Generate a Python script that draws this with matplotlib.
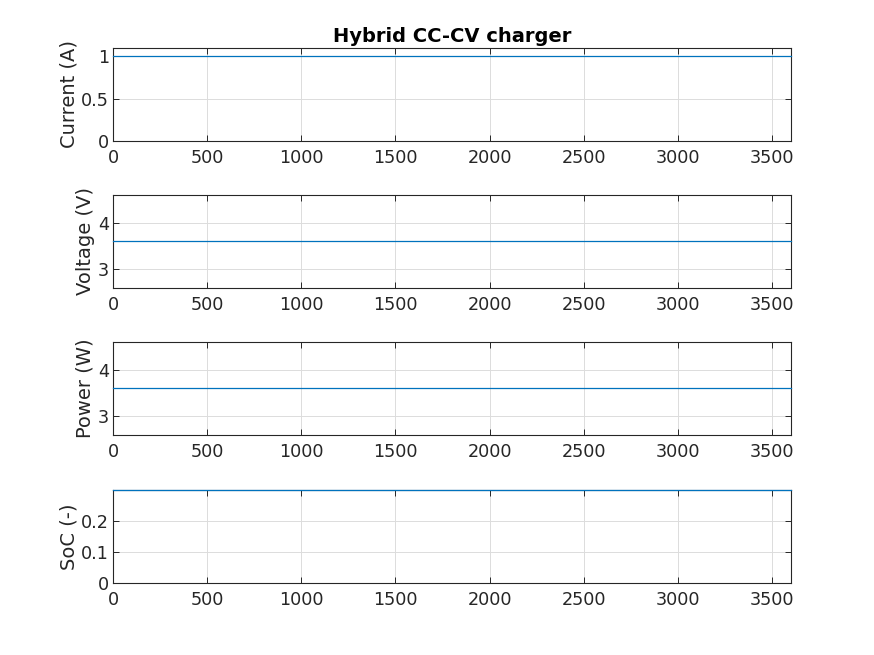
import numpy as np
import matplotlib
matplotlib.use("Agg")
import matplotlib.pyplot as plt

# Datos de la simulacion (valores constantes)
time_s = np.array([0, 3600])
current_a = np.array([1.0, 1.0])
voltage_v = np.array([3.6, 3.6])
power_w = np.array([3.6, 3.6])
soc = np.array([0.3, 0.3])

ylabels = ["Current (A)", "Voltage (V)", "Power (W)", "SoC (-)"]
ylims = [(0, 1.1), (2.6, 4.6), (2.6, 4.6), (0, 0.3)]
yticks = [[0, 0.5, 1], [3, 4], [3, 4], [0, 0.1, 0.2]]
xticks = np.arange(0, 3501, 500)

plt.rcParams["font.family"] = "DejaVu Sans"
plt.rcParams["font.size"] = 12.7

fig = plt.figure(figsize=(8.74, 6.55), dpi=100)
left, width, height = 113 / 874, 678 / 874, 93 / 655
bottoms = [1 - 141 / 655, 1 - 288 / 655, 1 - 435 / 655, 1 - 583 / 655]

series = [current_a, voltage_v, power_w, soc]
dark = "#262626"
for i, y in enumerate(series):
    ax = fig.add_axes([left, bottoms[i], width, height])
    ax.plot(time_s, y, color="#0072BD", linewidth=0.9, clip_on=False, zorder=5)
    ax.set_xlim(0, 3600)
    ax.set_ylim(*ylims[i])
    ax.set_xticks(xticks)
    ax.set_yticks(yticks[i])
    ax.set_yticklabels([f"{v:g}" for v in yticks[i]])
    ax.set_ylabel(ylabels[i], color=dark, fontsize=14, labelpad=2)
    ax.grid(True, color="#dcdcdc", linewidth=0.7)
    ax.set_axisbelow(True)
    ax.tick_params(direction="in", length=4, width=0.7, colors=dark,
                   top=True, right=True, labelsize=12.7, pad=3)
    ax.tick_params(axis="x", pad=6)
    for sp in ax.spines.values():
        sp.set_color(dark)
        sp.set_linewidth(0.8)
        sp.set_zorder(2)
    if i == 0:
        ax.set_title("Hybrid CC-CV charger", fontsize=14, fontweight="bold", pad=4)

fig.savefig("out.png", dpi=100)
